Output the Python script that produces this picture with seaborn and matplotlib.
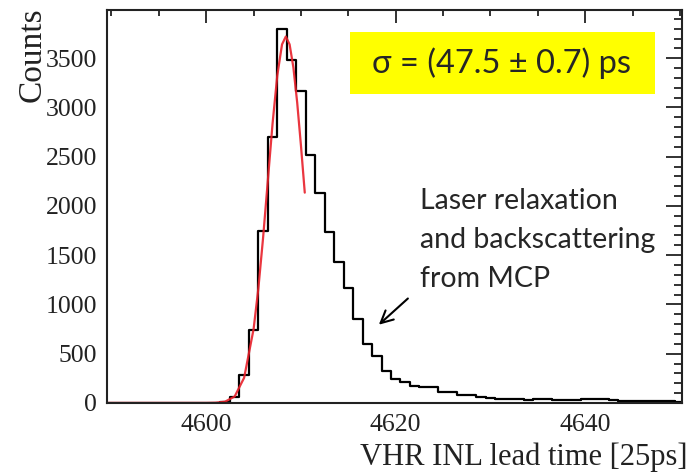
import numpy as np
import pandas as pd
import matplotlib
matplotlib.use("Agg")
import matplotlib.pyplot as plt
from matplotlib.ticker import MultipleLocator
from matplotlib.patches import Rectangle
import seaborn as sns

# ---- data ----
bin_centers = list(range(4590, 4651))
counts = [0, 0, 0, 0, 0, 0, 0, 0, 0, 0, 0, 0,      # 4590-4601
          5, 60, 280, 740, 1750, 2700, 3800, 3480,  # 4602-4609
          3170, 2520, 2130, 1735, 1430, 1165, 855,  # 4610-4616
          600, 475, 320, 242, 208, 170, 165, 160,   # 4617-4624
          115, 110, 85, 78, 62, 50, 40, 38, 36,     # 4625-4633
          30, 40, 38, 32, 30, 28, 35, 38, 36, 28,   # 4634-4643
          22, 20, 18, 18, 15, 15, 12]               # 4644-4650

fit_x = [4589.5, 4600, 4601, 4602, 4603, 4604, 4605, 4605.5, 4606, 4606.5,
         4607, 4607.5, 4608, 4608.4, 4608.8, 4609.2, 4609.6, 4610, 4610.4]
fit_y = [0, 0, 2, 13, 65, 255, 750, 1160, 1675, 2255,
         2835, 3325, 3640, 3720, 3640, 3405, 3050, 2610, 2135]

x_label = "VHR INL lead time [25ps]"
y_label = "Counts"
sigma_text = "σ = (47.5 ± 0.7) ps"
note_text = "Laser relaxation\nand backscattering\nfrom MCP"

df = pd.DataFrame({"t": bin_centers, "n": counts})
edges = [c - 0.5 for c in bin_centers] + [bin_centers[-1] + 0.5]

sns.set_style("white")
plt.rcParams["font.family"] = ["Liberation Serif", "DejaVu Serif"]

fig = plt.figure(figsize=(6.93, 4.74), dpi=100)
ax = fig.add_axes([0.154, 0.150, 0.830, 0.829])

sns.histplot(data=df, x="t", weights="n", bins=edges, element="step",
             fill=False, color="black", linewidth=1.6, ax=ax)
sns.lineplot(x=fit_x, y=fit_y, color="#e8202a", linewidth=1.6, ax=ax,
             alpha=0.9)

ax.set_xlim(4589.5, 4650.2)
ax.set_ylim(0, 3990)

for s in ax.spines.values():
    s.set_linewidth(1.5)
    s.set_color("#222222")

ax.xaxis.set_major_locator(MultipleLocator(20))
ax.xaxis.set_minor_locator(MultipleLocator(5))
ax.yaxis.set_major_locator(MultipleLocator(500))
ax.yaxis.set_minor_locator(MultipleLocator(100))
ax.tick_params(axis="both", which="both", direction="in", top=True,
               right=True, color="#222222", width=1.3, labelsize=18.5,
               labelcolor="#222222")
ax.tick_params(axis="x", which="major", length=9, pad=8)
ax.tick_params(axis="x", which="minor", length=4.5)
ax.tick_params(axis="y", which="major", length=11.5, pad=7)
ax.tick_params(axis="y", which="minor", length=5.5)

ax.set_xlabel(x_label, fontsize=22, color="#222222")
ax.xaxis.set_label_coords(1.009, -0.10)
ax.xaxis.label.set_horizontalalignment("right")
ax.set_ylabel(y_label, fontsize=24, color="#222222")
ax.yaxis.set_label_coords(-0.13, 0.885)
ax.yaxis.label.set_verticalalignment("center")

# yellow result box
ax.add_patch(Rectangle((0.423, 0.786), 0.531, 0.158, transform=ax.transAxes,
                       facecolor="#ffff00", edgecolor="none", zorder=3))
ax.text(0.686, 0.865, sigma_text, transform=ax.transAxes, ha="center",
        va="center", fontsize=23.5, family=["Lato", "DejaVu Sans"], zorder=4)

ax.text(4622.6, 1655, note_text, ha="left", va="center", fontsize=20.5,
        family=["Lato", "DejaVu Sans"], linespacing=1.6)
ax.annotate("", xy=(4618.0, 775), xytext=(4621.5, 1079),
            arrowprops=dict(arrowstyle="->", color="black", lw=1.5,
                            mutation_scale=22))

fig.savefig("out.png", dpi=100)
